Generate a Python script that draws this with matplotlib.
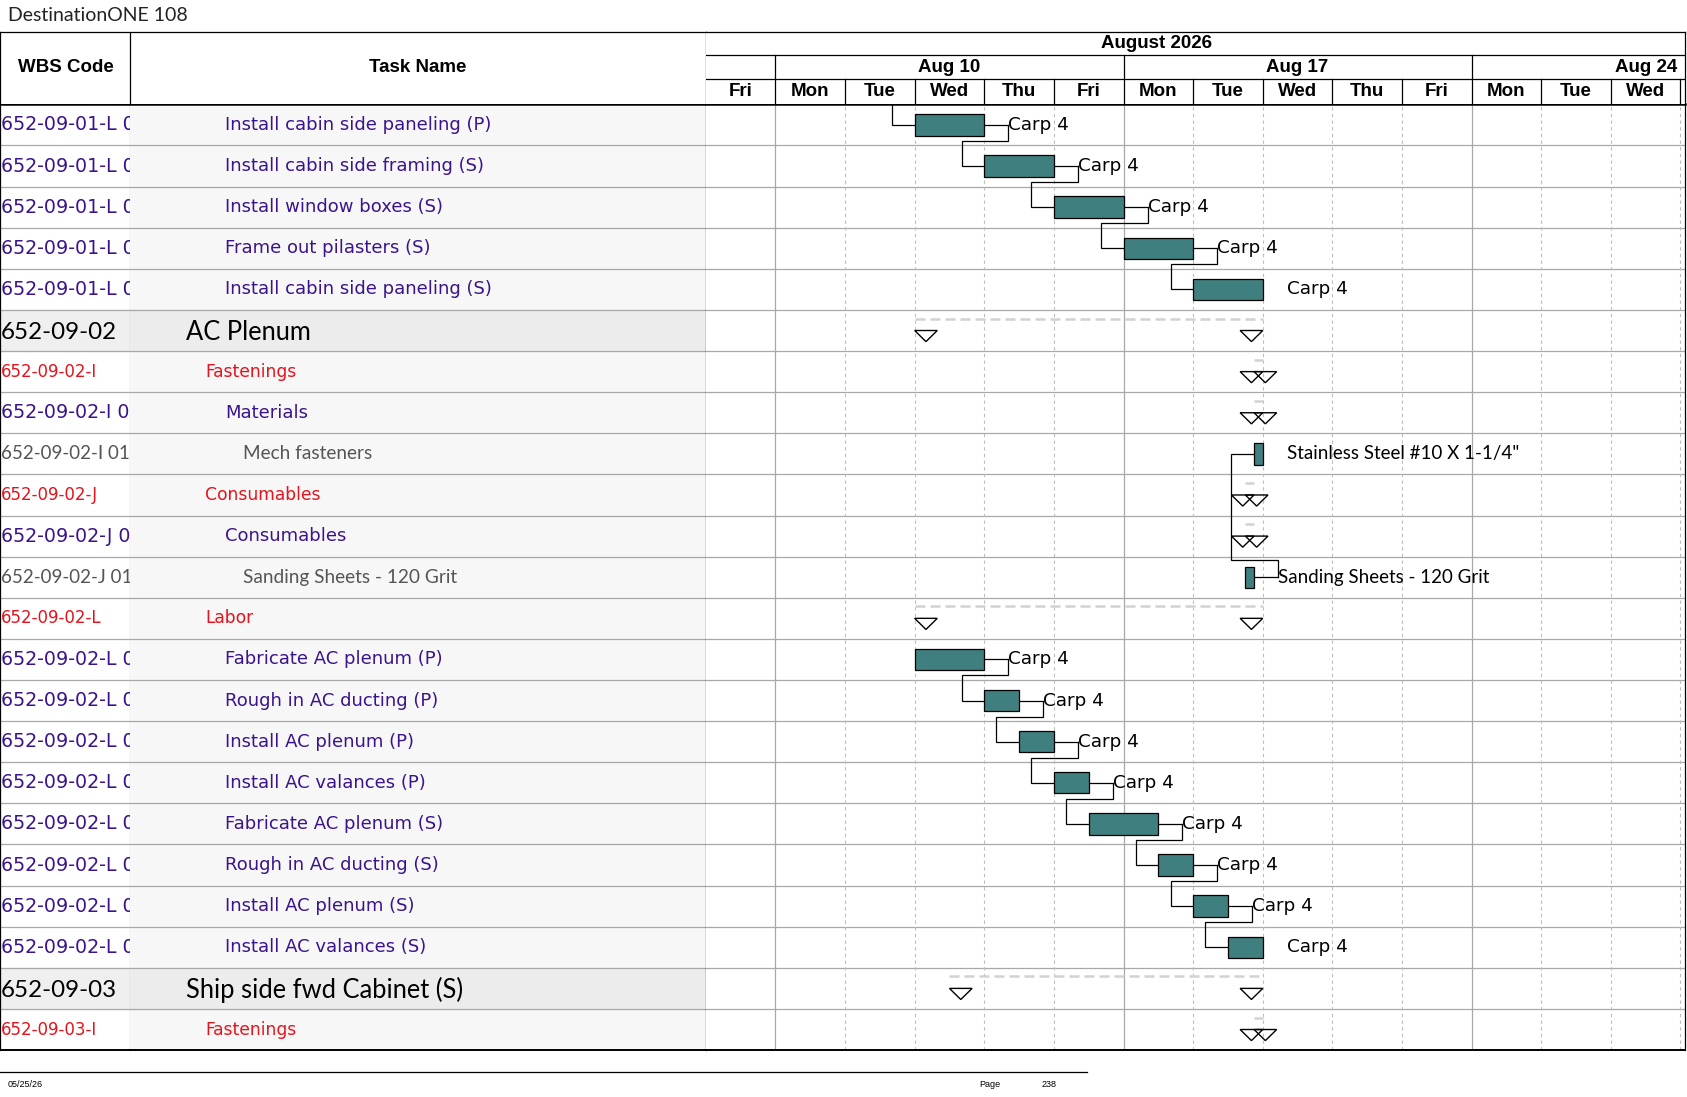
import matplotlib
matplotlib.use("Agg")
import matplotlib.pyplot as plt
from matplotlib.patches import Rectangle, Polygon
from matplotlib.lines import Line2D

# ---------------- data ----------------
wbs_codes = [
    "652-09-01-L 01", "652-09-01-L 02", "652-09-01-L 03", "652-09-01-L 04",
    "652-09-01-L 05", "652-09-02", "652-09-02-I", "652-09-02-I 01",
    "652-09-02-I 01-01", "652-09-02-J", "652-09-02-J 01", "652-09-02-J 01-01",
    "652-09-02-L", "652-09-02-L 01", "652-09-02-L 02", "652-09-02-L 03",
    "652-09-02-L 04", "652-09-02-L 05", "652-09-02-L 06", "652-09-02-L 07",
    "652-09-02-L 08", "652-09-03", "652-09-03-I",
]
task_names = [
    "Install cabin side paneling (P)", "Install cabin side framing (S)",
    "Install window boxes (S)", "Frame out pilasters (S)",
    "Install cabin side paneling (S)", "AC Plenum", "Fastenings", "Materials",
    "Mech fasteners", "Consumables", "Consumables", "Sanding Sheets - 120 Grit",
    "Labor", "Fabricate AC plenum (P)", "Rough in AC ducting (P)",
    "Install AC plenum (P)", "Install AC valances (P)", "Fabricate AC plenum (S)",
    "Rough in AC ducting (S)", "Install AC plenum (S)", "Install AC valances (S)",
    "Ship side fwd Cabinet (S)", "Fastenings",
]
row_styles = ["task"] * 5 + ["summary", "group", "task", "item", "group", "task",
                             "item", "group"] + ["task"] * 8 + ["summary", "group"]

# working-day units from Fri Aug 7 2026 (0) ... Wed Aug 26 (13)
bar_start = [3, 4, 5, 6, 7, 3, 7.875, 7.875, 7.875, 7.75, 7.75, 7.75, 3,
             3, 4, 4.5, 5, 5.5, 6.5, 7, 7.5, 3.5, 7.875]
bar_end = [4, 5, 6, 7, 8, 8, 8, 8, 8, 7.875, 7.875, 7.875, 8,
           4, 4.5, 5, 5.5, 6.5, 7, 7.5, 8, 8, 8]
row_kind = ["bar"] * 5 + ["summary"] * 3 + ["bar"] + ["summary"] * 2 + ["bar"] + \
           ["summary"] + ["bar"] * 8 + ["summary"] * 2
bar_labels = ["Carp 4"] * 5 + [""] * 3 + ['Stainless Steel #10 X 1-1/4"'] + [""] * 2 + \
             ["Sanding Sheets - 120 Grit"] + [""] + ["Carp 4"] * 8 + [""] * 2
label_leader = [True, True, True, True, False] + [False] * 3 + [False] + [False] * 2 + \
               [True] + [False] + [True] * 7 + [False] + [False] * 2
# finish-to-start links (predecessor row, successor row); -1 = predecessor above the page
links = [(-1, 0), (0, 1), (1, 2), (2, 3), (3, 4), (11, 8),
         (13, 14), (14, 15), (15, 16), (16, 17), (17, 18), (18, 19), (19, 20)]

day_names = ["Fri", "Mon", "Tue", "Wed", "Thu", "Fri", "Mon", "Tue", "Wed", "Thu",
             "Fri", "Mon", "Tue", "Wed"]
week_labels = ["Aug 10", "Aug 17", "Aug 24"]
week_first_day = [1, 6, 11]
month_label = "August 2026"

# ---------------- layout ----------------
W, H = 1568.0, 1568.0 * 1097 / 1687
PURPLE = "#3a148c"
RED = "#e5131b"
GRAY = "#555555"
TEAL = "#3f7f80"
ROWLINE = "#a8a8a8"

styles = {
    "task": dict(color=PURPLE, family="DejaVu Sans", size=13, wsize=13.7, indent=209),
    "group": dict(color=RED, family="DejaVu Sans", size=12.3, wsize=12, indent=191),
    "item": dict(color=GRAY, family="Lato", size=13.7, wsize=13.5, indent=226),
    "summary": dict(color="black", family="Lato", size=18.4, wsize=17.4, indent=173),
}


def rect(l, t, r, b):
    return [l / W, 1 - b / H, (r - l) / W, (b - t) / H]


fig = plt.figure(figsize=(16.87, 10.97), dpi=100)
n = len(task_names)
x_max = (1566 - 656) / 64.71

ax_wbs = fig.add_axes(rect(0, 97, 121, 976))
ax_task = fig.add_axes(rect(121, 97, 656, 976))
ax = fig.add_axes(rect(656, 97, 1566, 976))
ax_lh = fig.add_axes(rect(0, 30, 656, 97))
ax_th = fig.add_axes(rect(656, 30, 1566, 97))

for a in (ax_wbs, ax_task, ax, ax_lh, ax_th):
    a.set_xticks([])
    a.set_yticks([])
    for sp in a.spines.values():
        sp.set_color("black")
        sp.set_linewidth(0.9)

ax_wbs.set_xlim(0, 121)
ax_task.set_xlim(121, 656)
ax.set_xlim(0, x_max)
for a in (ax_wbs, ax_task, ax):
    a.set_ylim(n - 0.5, -0.5)
    a.spines["top"].set_linewidth(1.8)
    a.spines["bottom"].set_linewidth(1.4)
ax_wbs.set_facecolor("white")
ax_task.set_facecolor("#f7f7f7")
ax_wbs.spines["right"].set_color(ROWLINE)
ax_task.spines["left"].set_visible(False)
ax.spines["left"].set_visible(False)

# ---- left table body ----
for i in range(n):
    st = styles[row_styles[i]]
    dy = 0.04 if row_styles[i] == "summary" else 0
    if row_styles[i] == "summary":
        ax_wbs.axhspan(i - 0.5, i + 0.5, color="#efefef", zorder=0)
        ax_task.axhspan(i - 0.5, i + 0.5, color="#ececec", zorder=0)
    ax_wbs.text(0.5, i + dy, wbs_codes[i], color=st["color"], family=st["family"],
                fontsize=st["wsize"], va="center", ha="left", clip_on=True)
    ax_task.text(st["indent"], i + dy, task_names[i], color=st["color"],
                 family=st["family"], fontsize=st["size"], va="center", ha="left",
                 clip_on=True)
for a in (ax_wbs, ax_task, ax):
    for i in range(n - 1):
        a.axhline(i + 0.5, color=ROWLINE, lw=0.9, zorder=1)

# ---- chart grid ----
for d in range(1, len(day_names) + 1):
    if d in week_first_day:
        ax.axvline(d, color=ROWLINE, lw=0.9, zorder=1)
    else:
        ax.axvline(d, color="#bdbdbd", lw=0.8, ls=(0, (3, 3)), zorder=1)

# ---- bars, summaries, labels ----
GAP = 0.345
TRI = 0.325
for i in range(n):
    s, e = bar_start[i], bar_end[i]
    if row_kind[i] == "bar":
        ax.add_patch(Rectangle((s, i - 0.26), e - s, 0.52, facecolor=TEAL,
                               edgecolor="black", lw=0.9, zorder=4))
    else:
        ax.plot([s, e], [i - 0.29, i - 0.29], color="#d2d2d2", lw=1.8,
                ls=(0, (4, 2)), zorder=2)
        ax.add_patch(Polygon([(e - TRI, i), (e, i), (e - TRI / 2, i + 0.27)],
                             closed=True, facecolor="white", edgecolor="black",
                             lw=1.0, zorder=4))
        ax.add_patch(Polygon([(s, i), (s + TRI, i), (s + TRI / 2, i + 0.27)],
                             closed=True, facecolor="none", edgecolor="black",
                             lw=1.0, zorder=4))
    if bar_labels[i]:
        fam = "Lato" if row_styles[i] == "item" else "DejaVu Sans"
        size = 13.5 if row_styles[i] == "item" else 13.2
        ax.text(e + GAP, i, bar_labels[i], family=fam, fontsize=size, color="black",
                va="center", ha="left", zorder=5)
        if label_leader[i]:
            ax.plot([e, e + GAP], [i, i], color="black", lw=0.9, zorder=3)

for p, q in links:
    xv = bar_start[q] - TRI
    if p < 0:
        xs, ys = [xv, xv, bar_start[q]], [q - 0.5, q, q]
    else:
        x0 = bar_end[p] + GAP
        y0 = p + 0.39 if q > p else p - 0.42
        xs = [x0, x0, xv, xv, bar_start[q]]
        ys = [p, y0, y0, q, q]
    ax.plot(xs, ys, color="black", lw=0.9, zorder=3, solid_joinstyle="miter")

# ---- header ----
ax_lh.set_xlim(0, 656)
ax_lh.set_ylim(97, 30)
ax_lh.spines["bottom"].set_visible(False)
ax_lh.axvline(121, color="black", lw=0.9)
ax_lh.text(61, 63, "WBS Code", family="Liberation Sans", weight="bold", fontsize=13.5,
           ha="center", va="center")
ax_lh.text(388, 63, "Task Name", family="Liberation Sans", weight="bold", fontsize=13.5,
           ha="center", va="center")

ax_th.set_xlim(0, x_max)
ax_th.set_ylim(97, 30)
ax_th.spines["bottom"].set_visible(False)
ax_th.spines["left"].set_visible(False)
ax_th.axhline(51, color="black", lw=0.9)
ax_th.axhline(73, color="black", lw=0.9)
ax_th.text(6.47, 40.5, month_label, family="Liberation Sans", weight="bold",
           fontsize=13.5, ha="center", va="center")
for lab, d0 in zip(week_labels, week_first_day):
    ax_th.plot([d0, d0], [51, 73], color="black", lw=0.9)
    ax_th.text(d0 + 2.5, 62.5, lab, family="Liberation Sans", weight="bold",
               fontsize=13.5, ha="center", va="center", clip_on=True)
for d, name in enumerate(day_names):
    ax_th.plot([d + 1, d + 1], [73, 97], color="black", lw=0.9)
    ax_th.text(d + 0.5, 85.5, name, family="Liberation Sans", weight="bold",
               fontsize=13.5, ha="center", va="center", clip_on=True)

# ---- title and footer ----
fig.text(7 / W, 1 - 14 / H, "DestinationONE 108", family="Lato", fontsize=14,
         ha="left", va="center", color="#222222")
fig.add_artist(Line2D([0, 1010 / W], [1 - 996 / H, 1 - 996 / H], color="black",
                      lw=0.9, transform=fig.transFigure))
fig.text(7 / W, 1 - 1008 / H, "05/25/26", family="Liberation Sans", fontsize=6.5,
         ha="left", va="center")
fig.text(920 / W, 1 - 1008 / H, "Page", family="Liberation Sans", fontsize=6.5,
         ha="center", va="center")
fig.text(975 / W, 1 - 1008 / H, "238", family="Liberation Sans", fontsize=6.5,
         ha="center", va="center")

fig.savefig("out.png", dpi=100, facecolor="white")
